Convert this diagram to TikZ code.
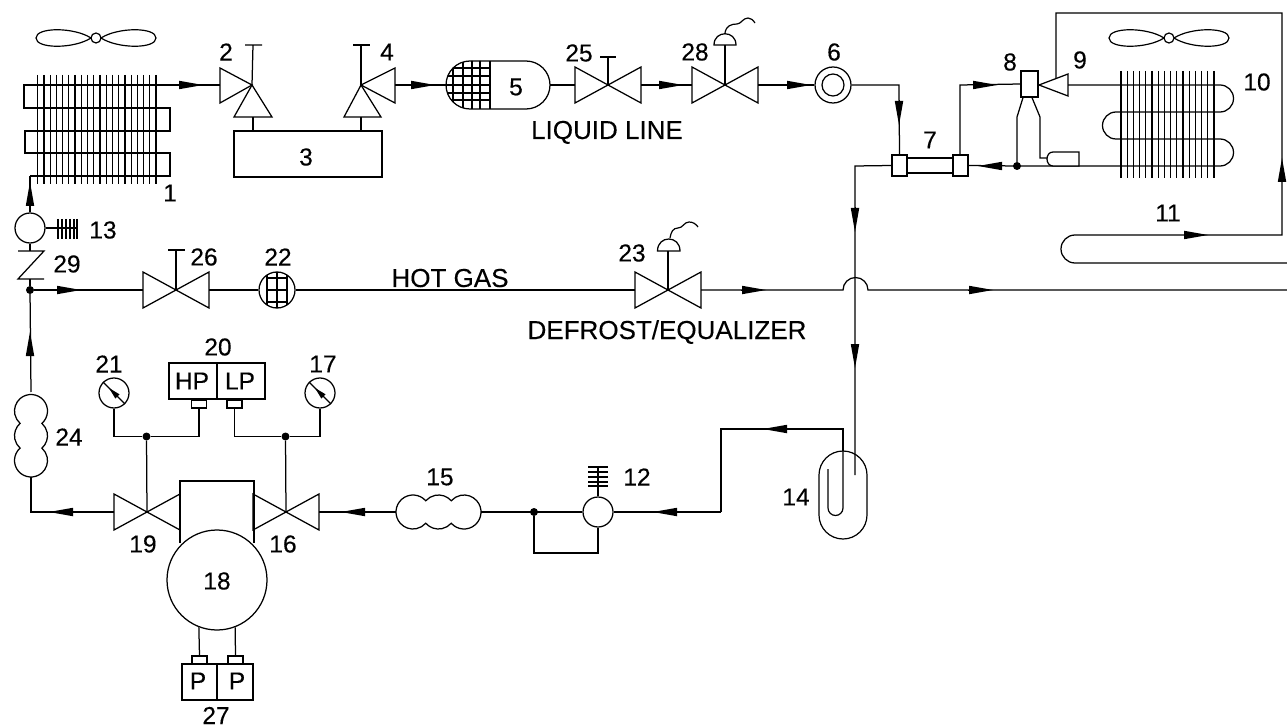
\documentclass[tikz,border=0pt]{standalone}
\usepackage{fontspec}
\setmainfont{Liberation Sans}
\newfontfamily\heavyfont[FakeBold=0.25]{Liberation Sans}
\usetikzlibrary{arrows.meta}
\tikzset{
  pipe/.style={line width=1.25pt,line join=miter},
  thin pipe/.style={line width=1.2pt},
  lbl/.style={inner sep=0pt,font=\heavyfont\fontsize{24.5}{25}\selectfont},
  txt/.style={inner sep=0pt,font=\heavyfont\fontsize{26}{26}\selectfont},
  box/.style={draw,line width=1.25pt,inner sep=0pt,fill=white},
  round/.style={draw,circle,line width=1.25pt,inner sep=0pt,fill=white},
  jdot/.style={circle,fill=black,inner sep=0pt,minimum size=8pt},
  head/.style={line width=0pt,-{Triangle[length=24pt,width=8.5pt]}},
  shead/.style={line width=0pt,-{Triangle[length=12pt,width=6pt]}},
}
% arrow head on a line: name, back point, tip point
\newcommand{\ah}[5]{\coordinate (#1-b) at (#2,#3);\coordinate (#1-t) at (#4,#5);\draw[head] (#1-b) -- (#1-t);}
% bow-tie valve: name, centre x, centre y, half width
\newcommand{\valve}[4]{%
  \coordinate (#1-c) at (#2,#3);
  \coordinate (#1-l) at ({#2-#4},#3);
  \coordinate (#1-r) at ({#2+#4},#3);
  \draw[box] ({#2-#4},{#3-18}) -- ({#2+#4},{#3+18}) -- ({#2+#4},{#3-18}) -- ({#2-#4},{#3+18}) -- cycle;}
% fan
\newcommand{\fan}[3]{\begin{scope}[shift={(#2,#3)}]
  \draw[thin pipe] (-5,0) .. controls (-22,-11) and (-60,-11) .. (-60,0) .. controls (-60,11) and (-22,11) .. (-5,0);
  \draw[thin pipe] (5,0) .. controls (22,-11) and (60,-11) .. (60,0) .. controls (60,11) and (22,11) .. (5,0);
  \node[round,line width=1.2pt,minimum size=10pt] (#1) at (0,0) {};
  \end{scope}}
% three-lobed shell
\newcommand{\lobes}[4]{\begin{scope}[shift={(#1,#2)},rotate=#3]
  \draw[pipe,fill=white] (-25.5,0)++(41.4:#4) arc[start angle=41.4,end angle=318.6,radius=#4]
    arc[start angle=221.4,end angle=318.6,radius=#4]
    arc[start angle=221.4,end angle=498.6,radius=#4]
    arc[start angle=41.4,end angle=138.6,radius=#4] -- cycle;
  \end{scope}}
\begin{document}
\begin{tikzpicture}[x=1pt,y=-1pt]
\useasboundingbox (0,0) rectangle (1287,727);
\fill[white] (0,0) rectangle (1287,727);

% ---------- condenser 1
\fan{fan1}{96}{38}
\foreach \i in {0,...,19}{\draw[thin pipe] ({37.7+6.23*\i},75) -- ({37.7+6.23*\i},184);}
\coordinate (c1-in) at (30,176);
\valve{v25}{608}{85}{33}
\valve{v28}{725}{85}{33}
\draw[pipe] (220,85) -- (24,85) -- (24,108) -- (170,108) -- (170,131) -- (25,131) -- (25,153) -- (170,153) -- (170,176) -- (c1-in);

% ---------- valves 2, 4 and box 3
\node[box,minimum width=148pt,minimum height=46pt] (b3) at (308,154) {};
\coordinate (v2-a) at (252,85); \coordinate (v4-a) at (361,85);
\coordinate (v2-top) at (253,45); \coordinate (v4-top) at (361,45);
\draw[pipe] (v2-a) -- (v2-top) (245,45) -- (262,45);
\draw[pipe] (v4-a) -- (v4-top) (353,45) -- (370,45);
\draw[pipe] (v2-a) -- (220,68) -- (220,103) -- cycle;
\draw[pipe] (v2-a) -- (234,117) -- (272,117) -- cycle;
\draw[pipe] (v4-a) -- (395,68) -- (395,103) -- cycle;
\draw[pipe] (v4-a) -- (344,117) -- (381,117) -- cycle;
\draw[pipe] (253,117) -- (253,131) (361,117) -- (361,131);

% ---------- receiver 5
\coordinate (r5-l) at (446,85); \coordinate (r5-r) at (550,85);
\coordinate (v4-o) at (395,85);
\begin{scope}
  \clip (470,61) arc[start angle=90,end angle=270,radius=24pt] -- (490,109) -- (490,61) -- cycle;
  \foreach \x in {453,463,472,480}{\draw[thin pipe] (\x,55) -- (\x,115);}
  \foreach \y in {68,76,85,93,100}{\draw[thin pipe] (440,\y) -- (495,\y);}
\end{scope}
\draw[pipe] (470,61) -- (526,61) arc[start angle=90,end angle=-90,radius=24pt] -- (470,109) arc[start angle=270,end angle=90,radius=24pt] -- cycle;
\draw[pipe] (490,61) -- (490,109);

% ---------- filter drier 6
\node[round,minimum size=36pt] (f6) at (833,85) {};
\node[round,minimum size=22pt] (f6i) at (833,85) {};

% ---------- liquid line
\draw[pipe] (v4-o) -- (r5-l);
\draw[pipe] (r5-r) -- (v25-l) (v25-r) -- (v28-l) (v28-r) -- (f6.west);
\ah{a1}{179}{85}{203}{85}
\ah{a2}{411}{85}{435}{85}
\ah{a3}{658}{85}{683}{85}
\ah{a4}{786}{85}{811}{85}
\draw[pipe] (v25-c) -- (608,57) (600,57) -- (616,57);
\draw[pipe] (v28-c) -- (725,45);
\draw[pipe,fill=white] (714,45) .. controls (714,30) and (736,30) .. (736,45) -- cycle;
\draw[thin pipe] (725,33) .. controls (726,26) and (731,24) .. (737,24) .. controls (741,24) and (743,18) .. (748,18) .. controls (751,18) and (753,20) .. (755,23);

% ---------- heat exchanger 7
\node[box,minimum width=15pt,minimum height=21pt] (h7l) at (899.5,165.5) {};
\node[box,minimum width=15pt,minimum height=21pt] (h7r) at (960.5,165.5) {};
\draw[pipe] (h7l.east |- 0,158) -- (h7r.west |- 0,158) (h7l.east |- 0,173) -- (h7r.west |- 0,173);
\coordinate (c7) at (899,85);
\draw[pipe] (f6.east) -- (c7) -- (h7l.north);
\ah{a5}{899}{101}{899}{125}

% ---------- TXV 8, 9 and evaporator 10
\fan{fan2}{1169}{38}
\node[box,minimum width=17pt,minimum height=26pt] (b8) at (1029.5,84) {};
\coordinate (t9-a) at (1039,85); \coordinate (t9-r) at (1068,85);
\draw[pipe] (t9-a) -- (1068,74) -- (1068,96) -- cycle;
\coordinate (c8) at (960,85);
\draw[pipe] (h7r.north -| 960,0) -- (c8) -- (b8.west);
\ah{a6}{973}{85}{997}{85}
\foreach \i in {0,...,15}{\draw[thin pipe] ({1121+6.2*\i},71) -- ({1121+6.2*\i},178);}
\coordinate (d10) at (1017,166);
\draw[pipe] (t9-r) -- (1220,85) arc[start angle=90,end angle=-90,radius=13.5pt] -- (1116,112) arc[start angle=90,end angle=270,radius=13.5pt] -- (1220,139) arc[start angle=90,end angle=-90,radius=13.5pt] -- (d10) -- (h7r.east);
\node[jdot] (j10) at (d10) {};
\ah{a7}{1003}{166}{978}{166}
\draw[pipe] (b8.south -| 1023,0) -- (1017,117) -- (j10);
\draw[pipe] (b8.south -| 1032,0) -- (1040,117) -- (1040,158) -- (1047,158);
\draw[pipe,fill=white] (1079,166) -- (1079,152) -- (1053,152) .. controls (1045,152) and (1045,166) .. (1053,166) -- cycle;

% ---------- condenser-side loop 11
\coordinate (l9) at (1056,78.5);
\coordinate (e-up) at (1056,13); \coordinate (e-rt) at (1282,13); \coordinate (e-dn) at (1282,235);
\coordinate (e-end) at (1287,263);
\draw[pipe] (l9) -- (e-up) -- (e-rt) -- (e-dn) -- (1075,235) arc[start angle=90,end angle=270,radius=14pt] -- (e-end);
\ah{a8}{1282}{177}{1282}{158}
\ah{a9}{1184}{235}{1208}{235}

% ---------- suction line to accumulator 14
\coordinate (h7out) at (855,166);
\coordinate (acc-in) at (855,475);
\draw[pipe] (h7l.west) -- (h7out) -- (acc-in);
\ah{a10}{855}{209}{855}{232}
\ah{a11}{855}{346}{855}{368}
\draw[thin pipe] (843,451) arc[start angle=90,end angle=180,radius=24pt] -- (819,515) arc[start angle=180,end angle=360,radius=24pt] -- (867,475) arc[start angle=0,end angle=90,radius=24pt];
\coordinate (u1) at (843,429);\coordinate (u2) at (721,429);\coordinate (u3) at (721,512);
\draw[thin pipe] (828,469) -- (828,508) arc[start angle=180,end angle=360,radius=7.5pt] -- (843,451);
\draw[pipe] (843,451) -- (u1) -- (u2) -- (u3);
\ah{a12}{787}{429}{763}{429}

% ---------- sight/solenoid 12
\node[round,minimum size=30pt] (s12) at (598,512) {};
\draw[pipe] (u3) -- (s12.east);
\ah{a13}{678}{512}{653}{512}
\draw[pipe] (s12.north) -- (598,467);
\foreach \y in {467,472,477,482,486}{\draw[thin pipe] (588,\y) -- (608,\y);}
\node[jdot] (j12) at (534,512) {};
\coordinate (b12a) at (534,553); \coordinate (b12b) at (598,553);
\draw[pipe] (j12) -- (b12a) -- (b12b) -- (s12.south);

% ---------- muffler 15
\coordinate (m15-l) at (396,512); \coordinate (m15-r) at (481,512);
\draw[pipe] (s12.west) -- (m15-r);
\lobes{438.5}{512}{0}{17pt}

% ---------- compressor 18
\draw[pipe] (180,543) -- (180,481) -- (254,481) -- (254,543);
\node[round,minimum size=100pt] (m18) at (217,580) {};
\valve{v19}{147}{512}{33}
\valve{v16}{286}{512}{33}
\draw[line width=2pt] (180,494) -- (180,531) (254,494) -- (254,531);
\draw[pipe] (m15-l) -- (v16-r);
\ah{a14}{366}{512}{341}{512}

% ---------- pressure controls 20, gauges 17, 21
\node[box,minimum width=48pt,minimum height=36pt] (hp) at (193,381) {};
\node[box,minimum width=48pt,minimum height=36pt] (lp) at (241,381) {};
\node[box,minimum width=15pt,minimum height=8pt] (hpn) at (199,404) {};
\node[box,minimum width=15pt,minimum height=8pt] (lpn) at (234.5,404) {};
\node[round,minimum size=30pt] (g21) at (114,393) {};
\node[round,minimum size=30pt] (g17) at (320,393) {};
\node[jdot] (j19) at (146.5,436.5) {};
\node[jdot] (j16) at (285.5,436.5) {};
\draw[pipe] (g21.south) |- (j19);
\draw[pipe] (j19) -| (hpn.south);
\draw[pipe] (g17.south) |- (j16);
\draw[pipe] (j16) -| (lpn.south);
\draw[pipe] (j19) -- (v19-c);
\draw[pipe] (j16) -- (v16-c);
\draw[thin pipe] (g21.135) -- (g21.-45);
\draw[thin pipe] (g17.135) -- (g17.-45);
\draw[shead] (g21.center)++(3,3) -- ++(-8,-8);
\draw[shead] (g17.center)++(3,3) -- ++(-8,-8);

% ---------- oil pressure 27
\node[box,minimum width=35pt,minimum height=36pt] (p1) at (199.5,682) {};
\node[box,minimum width=36pt,minimum height=36pt] (p2) at (235,682) {};
\node[box,minimum width=15pt,minimum height=8pt] (p1n) at (199.5,660) {};
\node[box,minimum width=15pt,minimum height=8pt] (p2n) at (235.5,660) {};
\draw[pipe] (m18.249) -- (p1n.north);
\draw[pipe] (m18.291) -- (p2n.north);

% ---------- discharge: 24, 29, 13
\coordinate (d1) at (31,512);
\coordinate (m24-b) at (31,476); \coordinate (m24-t) at (31,392);
\draw[pipe] (v19-l) -- (d1) -- (m24-b);
\ah{a15}{70}{512}{49}{512}
\lobes{31}{435}{90}{16.5pt}
\node[jdot] (j1) at (30,290) {};
\draw[pipe] (m24-t) -- (j1);
\ah{a16}{30}{354}{30}{332}
\node[round,minimum size=30pt] (s13) at (30,228) {};
\coordinate (ck-t) at (30,251); \coordinate (ck-b) at (30,279);
\draw[pipe] (j1) -- (ck-b) (ck-t) -- (s13.south);
\draw[pipe] (18,251) -- (44,251) -- (18,279) -- (44,279);
\draw[pipe] (s13.north) -- (c1-in);
\ah{a17}{30}{208}{30}{182}
\draw[pipe] (s13.east) -- (77,228);
\foreach \x in {58,62,66,70,74,77}{\draw[thin pipe] (\x,219) -- (\x,239);}

% ---------- hot gas line
\valve{v26}{176}{290}{33}
\valve{v23}{668}{290}{33}
\node[round,minimum size=36pt] (d22) at (277,290) {};
\begin{scope}
  \clip (277,290) circle[radius=18pt];
  \foreach \x in {267,277,287}{\draw[thin pipe] (\x,270) -- (\x,310);}
  \foreach \y in {278,290,302}{\draw[thin pipe] (267,\y) -- (287,\y);}
\end{scope}
\draw[pipe] (j1) -- (v26-l) (v26-r) -- (d22.west) (d22.east) -- (v23-l);
\ah{a18}{59}{290}{81}{290}
\draw[pipe] (v26-c) -- (176,250) (168,250) -- (185,250);
\draw[pipe] (v23-c) -- (668,251);
\draw[pipe,fill=white] (657.5,251) .. controls (657.5,235) and (680,235) .. (680,251) -- cycle;
\draw[thin pipe] (670,238) .. controls (671,232) and (673,228) .. (678,228) .. controls (683,228) and (684,222) .. (689,222) .. controls (693,222) and (696,224) .. (698,227);
\coordinate (hop1) at (843,290); \coordinate (hop2) at (868,290); \coordinate (hotend) at (1287,290);
\draw[pipe] (v23-r) -- (hop1) arc[start angle=180,end angle=0,radius=12.5pt] -- (hotend);
\ah{a19}{741}{290}{766}{290}
\ah{a20}{968}{290}{993}{290}

% ---------- labels
\node[lbl] (t1) at (170,193) {1};
\node[lbl] (t2) at (226,52) {2};
\node[lbl] (t3) at (306,157) {3};
\node[lbl] (t4) at (387,52) {4};
\node[lbl] (t5) at (516,87) {5};
\node[lbl] (t6) at (834,52) {6};
\node[lbl] (t7) at (930,140) {7};
\node[lbl] (t8) at (1010,62) {8};
\node[lbl] (t9) at (1080,60) {9};
\node[lbl] (t10) at (1257,82) {10};
\node[lbl] (t11) at (1168,213) {11};
\node[lbl] (t12) at (637,477) {12};
\node[lbl] (t13) at (103,230) {13};
\node[lbl] (t14) at (796,497) {14};
\node[lbl] (t15) at (440,477) {15};
\node[lbl] (t16) at (283,544) {16};
\node[lbl] (t17) at (323,364) {17};
\node[lbl] (t18) at (217,581) {18};
\node[lbl] (t19) at (143,544) {19};
\node[lbl] (t20) at (218,347) {20};
\node[lbl] (t21) at (109,364) {21};
\node[lbl] (t22) at (278,257) {22};
\node[lbl] (t23) at (632,253) {23};
\node[lbl] (t24) at (69,437) {24};
\node[lbl] (t25) at (579,53) {25};
\node[lbl] (t26) at (204,257) {26};
\node[lbl] (t27) at (216,715.5) {27};
\node[lbl] (t28) at (695,52) {28};
\node[lbl] (t29) at (67,264) {29};
\node[lbl] (tp1) at (198,681) {P};
\node[lbl] (tp2) at (237,681) {P};
\node[lbl] (thp) at (192,381) {HP};
\node[lbl] (tlp) at (240,381) {LP};
\node[txt,anchor=base] (tliq) at (607,139) {LIQUID LINE};
\node[txt,anchor=base] (thot) at (450,287) {HOT GAS};
\node[txt,anchor=base] (tdef) at (667,339) {DEFROST/EQUALIZER};
\end{tikzpicture}
\end{document}
